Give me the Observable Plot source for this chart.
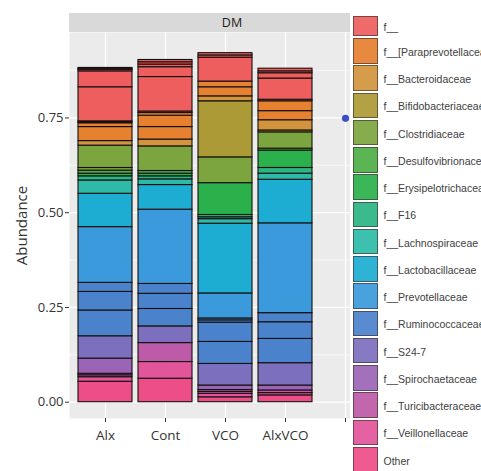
<!DOCTYPE html>
<html><head><meta charset="utf-8">
<script src="https://cdn.jsdelivr.net/npm/d3@7"></script>
<script src="https://cdn.jsdelivr.net/npm/@observablehq/plot@0.6"></script>
<style>
body{margin:0;background:#fff;}
#wrap{position:relative;width:481px;height:471px;overflow:hidden;}
#legend{position:absolute;left:349.5px;top:0;width:132px;height:471px;background:#fff;overflow:hidden;}
#legin{position:absolute;left:0;top:15.5px;width:132px;height:456px;overflow:hidden;}
.key{position:absolute;left:3px;width:25px;box-sizing:border-box;border:1px solid rgba(45,30,30,0.65);opacity:0.92;}
.lab{position:absolute;left:34px;font:10.5px "Liberation Sans",Arial,sans-serif;color:#404040;white-space:nowrap;display:flex;align-items:center;padding-top:2px;box-sizing:border-box;}
</style></head><body><div id="wrap"></div>
<script>
const families = ["f__","f__[Paraprevotellaceae]","f__Bacteroidaceae","f__Bifidobacteriaceae","f__Clostridiaceae","f__Desulfovibrionaceae","f__Erysipelotrichaceae","f__F16","f__Lachnospiraceae","f__Lactobacillaceae","f__Prevotellaceae","f__Ruminococcaceae","f__S24-7","f__Spirochaetaceae","f__Turicibacteraceae","f__Veillonellaceae","Other"];
const palette = ["#EE5E5E","#E6812F","#D2943C","#AC9A36","#7DA53F","#4FAF47","#2BB14C","#2BB585","#2DBBA8","#1DADD2","#3A9ADB","#4A82CC","#7C6FBE","#9C64B6","#BD5BA8","#E3559B","#EE4E87"];
const samples = ["Alx","Cont","VCO","AlxVCO"];
const xCategories = ["Alx","Cont","VCO","AlxVCO"," "];
const yTicks = [0, 0.25, 0.5, 0.75];
const yMinor = [0.125, 0.375, 0.625, 0.875];

// segments listed bottom -> top; family = index into families
const alxFamily = [16,15,14,14,13,12,11,11,11,10,9,8,7,6,5,4,4,2,1,1,0,0,0,0,0,0,0];
const alxValue  = [0.054,0.012,0.005,0.004,0.040,0.059,0.068,0.049,0.024,0.147,0.088,0.035,0.011,0.007,0.008,0.007,0.059,0.012,0.037,0.010,0.003,0.002,0.090,0.042,0.004,0.003,0.002];
const contFamily = [16,15,14,12,11,11,11,10,9,8,7,6,5,4,2,1,1,1,0,0,0,0,0,0];
const contValue  = [0.062,0.044,0.050,0.044,0.046,0.040,0.026,0.196,0.065,0.015,0.008,0.007,0.007,0.065,0.018,0.033,0.030,0.007,0.004,0.091,0.026,0.007,0.006,0.006];
const vcoFamily = [16,15,14,14,13,12,11,11,11,10,10,9,8,7,7,6,4,3,2,1,1,0,0,0];
const vcoValue  = [0.013,0.009,0.005,0.005,0.012,0.057,0.058,0.051,0.006,0.005,0.066,0.184,0.012,0.005,0.006,0.084,0.068,0.148,0.013,0.024,0.015,0.063,0.006,0.006];
const alxvcoFamily = [16,15,14,13,12,11,11,11,10,9,8,7,6,5,4,3,2,1,1,0,0,0,0,0];
const alxvcoValue  = [0.018,0.006,0.007,0.013,0.059,0.064,0.044,0.024,0.237,0.115,0.016,0.015,0.046,0.005,0.043,0.005,0.027,0.024,0.026,0.004,0.056,0.014,0.005,0.007];

const markerSample = [" "];
const markerValue = [0.749];

const famLists = [alxFamily, contFamily, vcoFamily, alxvcoFamily];
const valLists = [alxValue, contValue, vcoValue, alxvcoValue];
const rows = [];
samples.forEach((s, k) => famLists[k].forEach((f, j) => rows.push({sample: s, family: families[f], value: valLists[k][j]})));
const marker = markerSample.map((s, i) => ({sample: s, value: markerValue[i]}));

const W = 481, H = 471, mL = 69, mR = 86, mT = 32, mB = 53;
const chart = Plot.plot({
  width: W, height: H, marginLeft: mL, marginRight: mR, marginTop: mT, marginBottom: mB,
  style: {fontFamily: "'Open Sans', sans-serif", color: "#333", background: "transparent", overflow: "visible"},
  x: {type: "band", domain: xCategories, range: [75, 375], paddingInner: 0.1, paddingOuter: 0.05},
  y: {domain: [-0.043, 0.9755]},
  color: {domain: families, range: palette},
  marks: [
    Plot.frame({fill: "#EBEBEB", stroke: null}),
    Plot.ruleY(yMinor, {stroke: "#fff", strokeWidth: 0.6}),
    Plot.ruleY(yTicks, {stroke: "#fff", strokeWidth: 1.2}),
    Plot.ruleX(xCategories, {x: d => d, stroke: "#fff", strokeWidth: 1.2}),
    Plot.barY(rows, {x: "sample", y: "value", fill: "family", stroke: "#151010", strokeWidth: 1.1}),
    Plot.dot(marker, {x: "sample", y: "value", r: 3.6, fill: "#3D4FC4", stroke: null}),
    Plot.axisY(yTicks, {tickFormat: d3.format(".2f"), tickSize: 4, tickPadding: 2, fontSize: 13, label: "Abundance", labelAnchor: "center", labelArrow: "none", labelOffset: 53}),
    Plot.axisX({tickSize: 4, tickPadding: 8, fontSize: 13.5, label: null})
  ]
});
// facet strip
const svg = d3.select(chart);
svg.selectAll("g[aria-label='y-axis label'] text").style("font-size", "15px");
const strip = svg.append("g");
strip.append("rect").attr("x", mL).attr("y", 13).attr("width", W - mL - mR).attr("height", mT - 13).attr("fill", "#D9D9D9");
strip.append("text").attr("x", (mL + W - mR) / 2).attr("y", 22.5).attr("dy", "0.35em").attr("text-anchor", "middle")
  .attr("font-size", 12.5).attr("fill", "#1a1a1a").text("DM");
const wrap = document.getElementById("wrap");
wrap.appendChild(chart);

// legend
const leg = document.createElement("div"); leg.id = "legend";
const inner = document.createElement("div"); inner.id = "legin";
leg.appendChild(inner);
families.forEach((f, i) => {
  const top = i === 0 ? 0.2 : 22.5 + (i - 1) * 27.25;
  const h = i === 0 ? 20.5 : 25.5;
  const k = document.createElement("div"); k.className = "key";
  k.style.top = top + "px"; k.style.height = h + "px"; k.style.background = palette[i];
  const t = document.createElement("div"); t.className = "lab";
  t.style.top = top + "px"; t.style.height = h + "px"; t.textContent = f;
  inner.appendChild(k); inner.appendChild(t);
});
wrap.appendChild(leg);
</script></body></html>
